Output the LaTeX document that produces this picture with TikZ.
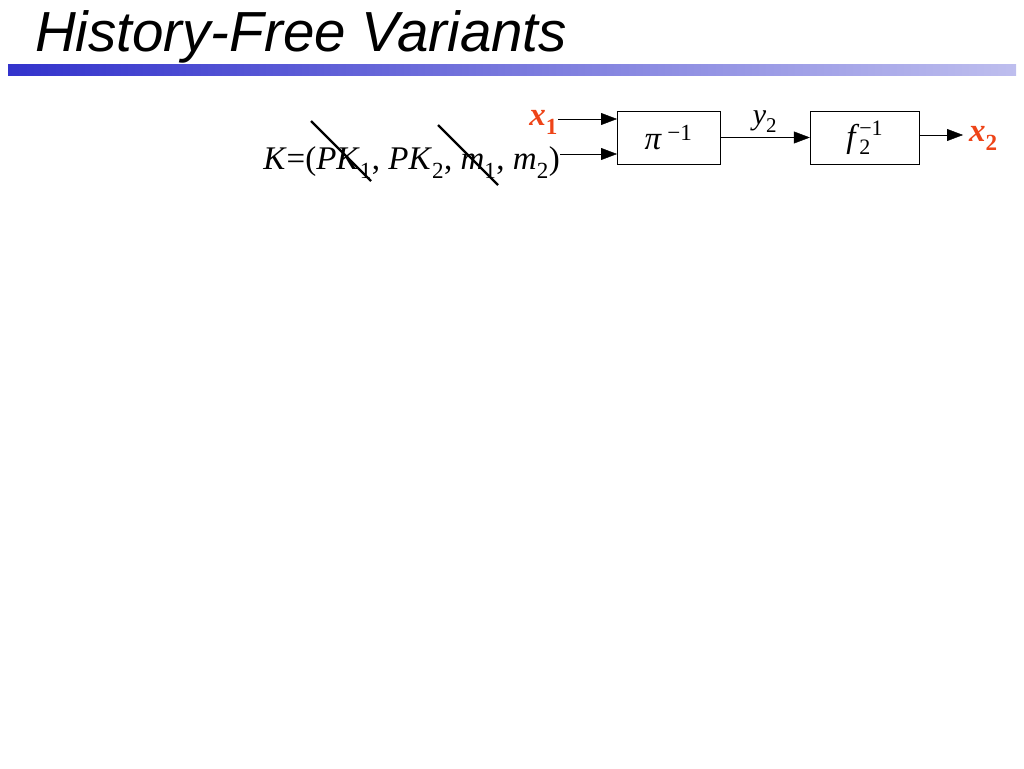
\documentclass[tikz,border=0pt]{standalone}
\usepackage{amsmath}
\usepackage{fontspec}
\setmainfont{Liberation Serif}
\newfontfamily\titlefont{Liberation Sans}
\usepackage{tikz}
\usepackage{xcolor}
\usetikzlibrary{arrows.meta}

\definecolor{barblue}{RGB}{51,51,204}
\definecolor{barlight}{RGB}{190,190,238}
\definecolor{keyred}{RGB}{238,68,24}

\newcommand{\vi}[1]{\textit{#1}}
\newcommand{\sub}[1]{\raisebox{-3pt}{\textsubscript{#1}}}

\tikzset{
    blockbox/.style={draw, thin, minimum width=103pt, minimum height=53pt, inner sep=0pt},
    sig/.style={-{Triangle[length=16pt,width=12pt]}, thin},
    bigtxt/.style={font=\fontsize{33}{38}\selectfont, inner sep=0pt},
    redtxt/.style={text=keyred, font=\fontsize{33}{38}\selectfont\bfseries\itshape, inner sep=0pt}
}

\begin{document}
\begin{tikzpicture}[x=1pt,y=-1pt]
        \useasboundingbox (0,0) rectangle (1024,768);
        % Title and bar
        \node[anchor=base west, inner sep=0pt, font=\titlefont\itshape\fontsize{56.5}{62}\selectfont] (title) at (35,52) {History-Free Variants};
        \shade[left color=barblue, right color=barlight] (8,64) rectangle (1016,75);
        % Key and inputs
        \node[bigtxt, anchor=base east] (key) at (560,169) {\vi{K}=(\vi{PK}\sub{1}, \vi{PK}\sub{2}, \vi{m}\sub{1}, \vi{m}\sub{2})};
        \draw[line width=2.2pt] (311,121) -- (371,181);
        \draw[line width=2.2pt] (438,125) -- (498,185);
        \node[redtxt, anchor=base east] (xin) at (558,125) {x\sub{\normalfont\bfseries 1}};
        % Blocks
        \node[blockbox] (pinv) at (668.5,137.5) {\fontsize{33}{38}\selectfont\vi{π}\,\textsuperscript{−1}};
        \node[blockbox, minimum width=109pt] (finv) at (864.5,137.5) {\fontsize{33}{38}\selectfont\vi{f}\raisebox{-7pt}{\fontsize{22}{19}\selectfont\vbox{\hbox{−1}\hbox{2}}}};
        \coordinate (kin) at (617,154);
        \coordinate (xto) at (617,119);
        \coordinate (xout) at (963,135);
        \draw[sig] (xin.east |- xto) -- (xto);
        \draw[sig] (key.east |- kin) -- (kin);
        \draw[sig] (pinv) -- node[above=1pt, font=\fontsize{30}{34}\selectfont] (ylab) {\vi{y}\sub{2}} (finv);
        \draw[sig] (finv.east |- xout) -- (xout);
        \node[redtxt, anchor=base west] (xres) at (969,141) {x\sub{\normalfont\bfseries 2}};
\end{tikzpicture}
\end{document}
